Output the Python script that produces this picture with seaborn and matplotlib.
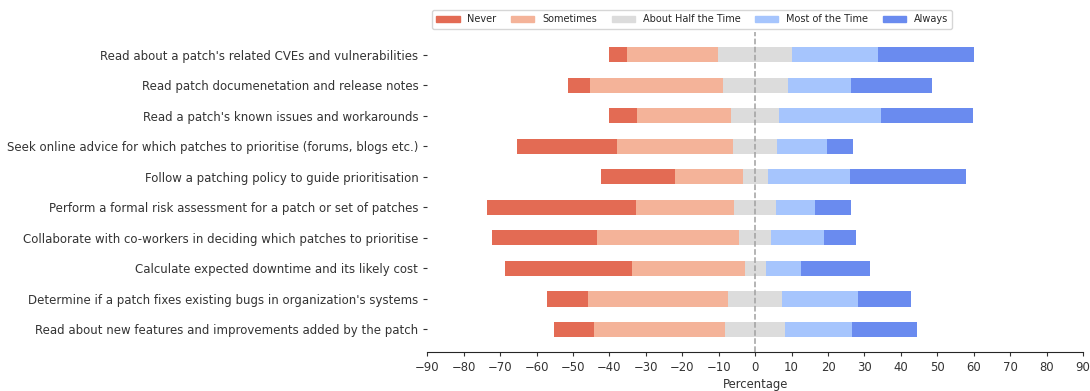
import pandas as pd
import matplotlib.pyplot as plt
import seaborn as sns
from matplotlib.patches import Patch

# survey answers, percent of respondents per answer
questions = [
    "Read about a patch's related CVEs and vulnerabilities",
    "Read patch documenetation and release notes",
    "Read a patch's known issues and workarounds",
    "Seek online advice for which patches to prioritise (forums, blogs etc.)",
    "Follow a patching policy to guide prioritisation",
    "Perform a formal risk assessment for a patch or set of patches",
    "Collaborate with co-workers in deciding which patches to prioritise",
    "Calculate expected downtime and its likely cost",
    "Determine if a patch fixes existing bugs in organization's systems",
    "Read about new features and improvements added by the patch",
]
never = [4.9, 6.2, 7.8, 27.4, 20.1, 41.1, 28.7, 34.8, 11.4, 11.0]
sometimes = [25.0, 36.4, 25.7, 31.9, 18.7, 26.8, 39.1, 31.0, 38.3, 36.2]
half = [20.4, 17.8, 13.3, 11.9, 6.8, 11.6, 8.8, 5.8, 15.0, 16.3]
most = [23.4, 17.5, 27.9, 13.8, 22.5, 10.5, 14.5, 9.7, 20.6, 18.4]
always = [26.5, 22.2, 25.3, 7.2, 31.9, 10.1, 8.8, 18.8, 14.7, 18.0]

answers = ['Never', 'Sometimes', 'About Half the Time', 'Most of the Time', 'Always']
colors = ['#e36b54', '#f4b399', '#dcdcdc', '#a6c5fd', '#6a8bef']

df = pd.DataFrame({'Question': questions, 'Never': never, 'Sometimes': sometimes,
                   'Half': half, 'Most': most, 'Always': always})
# diverging: half of the middle answer on each side of zero
df['half_neg'] = -df['Half'] / 2
df['some_neg'] = df['half_neg'] - df['Sometimes']
df['never_neg'] = df['some_neg'] - df['Never']
df['half_pos'] = df['Half'] / 2
df['most_pos'] = df['half_pos'] + df['Most']
df['always_pos'] = df['most_pos'] + df['Always']

sns.set_style('ticks')
plt.rcParams['font.family'] = ['DejaVu Sans']

fig = plt.figure(figsize=(10.9, 3.91), dpi=100)
ax = fig.add_axes([0.392, 0.0997, 0.6016, 0.8184])

# bars drawn from zero, longest first so shorter ones sit on top
layers = [('never_neg', colors[0]), ('some_neg', colors[1]), ('half_neg', colors[2]),
          ('always_pos', colors[4]), ('most_pos', colors[3]), ('half_pos', colors[2])]
for col, c in layers:
    sns.barplot(data=df, x=col, y='Question', order=questions, color=c,
                saturation=1, errorbar=None, width=0.5, linewidth=0, ax=ax)

ax.axvline(0, color='#a0a0a0', linestyle='--', linewidth=1.1, zorder=5)
ax.set_xlim(-90, 90)
ax.set_ylim(9.74, -0.74)
ax.set_xticks(range(-90, 91, 10))
ax.set_xlabel('Percentage', fontsize=8.4, color='#333333', labelpad=3)
ax.set_ylabel('')
ax.tick_params(axis='y', labelsize=8.5, length=3, colors='#333333')
ax.tick_params(axis='x', labelsize=8.4, length=3, colors='#333333')
sns.despine(ax=ax, left=True)

handles = [Patch(color=c, label=a) for a, c in zip(answers, colors)]
ax.legend(handles=handles, ncol=5, loc='lower left', bbox_to_anchor=(0.007, 1.01),
          fontsize=7, frameon=True, handlelength=2.4, borderaxespad=0,
          columnspacing=1.5, borderpad=0.45)

fig.savefig('out.png', dpi=100)
